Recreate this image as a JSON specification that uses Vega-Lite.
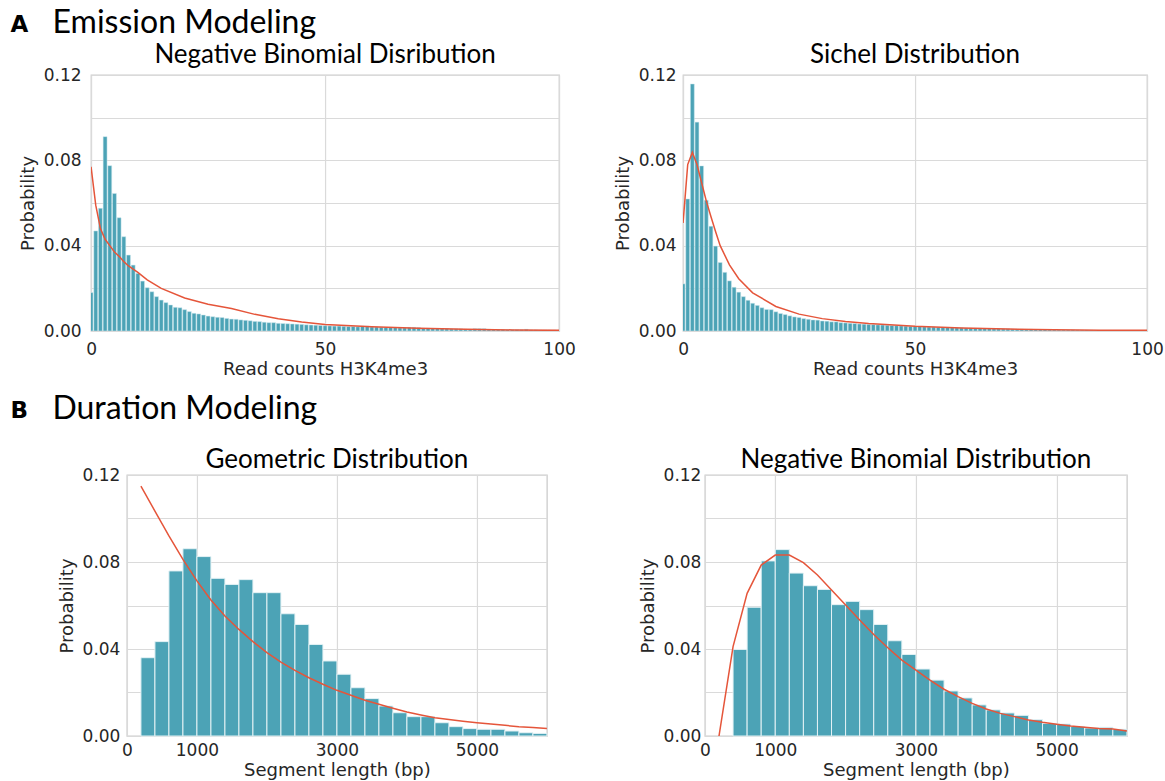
{
"$schema": "https://vega.github.io/schema/vega-lite/v6.json",
"background": "white",
"padding": {"left": 10, "top": 7, "right": 0, "bottom": 2},
"config": {
 "view": {"stroke": "#cccccc", "strokeWidth": 1.3},
 "axis": {"domain": false, "ticks": false, "grid": true, "gridColor": "#dadada", "gridWidth": 1.2, "labelFont": "DejaVu Sans", "labelFontSize": 17, "labelColor": "#262626", "titleFont": "DejaVu Sans", "titleFontSize": 18, "titleFontWeight": "normal", "titleColor": "#262626", "labelFlush": false},
 "title": {"font": "Lato", "fontWeight": "normal", "fontSize": 26, "color": "#000000", "offset": -2}
},
"datasets": {
 "e_nb_bars": [{"x":0,"p":0.018},{"x":1,"p":0.0469},{"x":2,"p":0.0575},{"x":3,"p":0.0911},{"x":4,"p":0.0775},{"x":5,"p":0.0645},{"x":6,"p":0.0531},{"x":7,"p":0.0442},{"x":8,"p":0.0356},{"x":9,"p":0.0309},{"x":10,"p":0.027},{"x":11,"p":0.0234},{"x":12,"p":0.0203},{"x":13,"p":0.0184},{"x":14,"p":0.0161},{"x":15,"p":0.0145},{"x":16,"p":0.0133},{"x":17,"p":0.0122},{"x":18,"p":0.0111},{"x":19,"p":0.0109},{"x":20,"p":0.01},{"x":21,"p":0.0091},{"x":22,"p":0.0083},{"x":23,"p":0.008},{"x":24,"p":0.0075},{"x":25,"p":0.007},{"x":26,"p":0.0067},{"x":27,"p":0.0064},{"x":28,"p":0.0063},{"x":29,"p":0.0059},{"x":30,"p":0.0056},{"x":31,"p":0.0055},{"x":32,"p":0.0052},{"x":33,"p":0.005},{"x":34,"p":0.0048},{"x":35,"p":0.0045},{"x":36,"p":0.0044},{"x":37,"p":0.0041},{"x":38,"p":0.0039},{"x":39,"p":0.0039},{"x":40,"p":0.0036},{"x":41,"p":0.0035},{"x":42,"p":0.0034},{"x":43,"p":0.0033},{"x":44,"p":0.0032},{"x":45,"p":0.0031},{"x":46,"p":0.0029},{"x":47,"p":0.0028},{"x":48,"p":0.0027},{"x":49,"p":0.0026},{"x":50,"p":0.0025},{"x":51,"p":0.0024},{"x":52,"p":0.0023},{"x":53,"p":0.0023},{"x":54,"p":0.0022},{"x":55,"p":0.0021},{"x":56,"p":0.0021},{"x":57,"p":0.002},{"x":58,"p":0.0023},{"x":59,"p":0.0023},{"x":60,"p":0.0019},{"x":61,"p":0.0019},{"x":62,"p":0.0018},{"x":63,"p":0.0017},{"x":64,"p":0.0017},{"x":65,"p":0.0016},{"x":66,"p":0.0015},{"x":67,"p":0.0015},{"x":68,"p":0.0017},{"x":69,"p":0.0017},{"x":70,"p":0.0016},{"x":71,"p":0.0013},{"x":72,"p":0.0013},{"x":73,"p":0.0012},{"x":74,"p":0.0012},{"x":75,"p":0.0011},{"x":76,"p":0.0011},{"x":77,"p":0.001},{"x":78,"p":0.001},{"x":79,"p":0.001},{"x":80,"p":0.0009},{"x":81,"p":0.0009},{"x":82,"p":0.0011},{"x":83,"p":0.0011},{"x":84,"p":0.0011},{"x":85,"p":0.0008},{"x":86,"p":0.0007},{"x":87,"p":0.0007},{"x":88,"p":0.0007},{"x":89,"p":0.0006},{"x":90,"p":0.0006},{"x":91,"p":0.0006},{"x":92,"p":0.0006},{"x":93,"p":0.0008},{"x":94,"p":0.0005},{"x":95,"p":0.0005},{"x":96,"p":0.0004},{"x":97,"p":0.0004},{"x":98,"p":0.0004},{"x":99,"p":0.0004}],
 "e_nb_line": [{"x":0,"p":0.077},{"x":1,"p":0.059},{"x":2,"p":0.048},{"x":3,"p":0.043},{"x":4,"p":0.04},{"x":5,"p":0.037},{"x":6,"p":0.035},{"x":7,"p":0.0325},{"x":8,"p":0.0305},{"x":10,"p":0.0275},{"x":12,"p":0.024},{"x":15,"p":0.02},{"x":20,"p":0.0155},{"x":25,"p":0.0125},{"x":30,"p":0.0105},{"x":35,"p":0.0078},{"x":40,"p":0.0057},{"x":45,"p":0.0042},{"x":50,"p":0.0031},{"x":60,"p":0.002},{"x":70,"p":0.0013},{"x":80,"p":0.0008},{"x":90,"p":0.0005},{"x":100,"p":0.0003}],
 "e_si_bars": [{"x":0,"p":0.0221},{"x":1,"p":0.0619},{"x":2,"p":0.1158},{"x":3,"p":0.0979},{"x":4,"p":0.0774},{"x":5,"p":0.0613},{"x":6,"p":0.0491},{"x":7,"p":0.0398},{"x":8,"p":0.0321},{"x":9,"p":0.0275},{"x":10,"p":0.0235},{"x":11,"p":0.0205},{"x":12,"p":0.0182},{"x":13,"p":0.0161},{"x":14,"p":0.0144},{"x":15,"p":0.013},{"x":16,"p":0.012},{"x":17,"p":0.0109},{"x":18,"p":0.0101},{"x":19,"p":0.01},{"x":20,"p":0.009},{"x":21,"p":0.0082},{"x":22,"p":0.0077},{"x":23,"p":0.0071},{"x":24,"p":0.0066},{"x":25,"p":0.0063},{"x":26,"p":0.0058},{"x":27,"p":0.0055},{"x":28,"p":0.0052},{"x":29,"p":0.0051},{"x":30,"p":0.0047},{"x":31,"p":0.0046},{"x":32,"p":0.0043},{"x":33,"p":0.0043},{"x":34,"p":0.0039},{"x":35,"p":0.0038},{"x":36,"p":0.0036},{"x":37,"p":0.0035},{"x":38,"p":0.0033},{"x":39,"p":0.0032},{"x":40,"p":0.0031},{"x":41,"p":0.003},{"x":42,"p":0.0029},{"x":43,"p":0.0028},{"x":44,"p":0.0027},{"x":45,"p":0.0026},{"x":46,"p":0.0025},{"x":47,"p":0.0024},{"x":48,"p":0.0023},{"x":49,"p":0.0022},{"x":50,"p":0.0022},{"x":51,"p":0.0021},{"x":52,"p":0.002},{"x":53,"p":0.0019},{"x":54,"p":0.0019},{"x":55,"p":0.0018},{"x":56,"p":0.0017},{"x":57,"p":0.0017},{"x":58,"p":0.0016},{"x":59,"p":0.0015},{"x":60,"p":0.0015},{"x":61,"p":0.0014},{"x":62,"p":0.0014},{"x":63,"p":0.0013},{"x":64,"p":0.0013},{"x":65,"p":0.0012},{"x":66,"p":0.0012},{"x":67,"p":0.0011},{"x":68,"p":0.0011},{"x":69,"p":0.001},{"x":70,"p":0.001},{"x":71,"p":0.0009},{"x":72,"p":0.0009},{"x":73,"p":0.0009},{"x":74,"p":0.0008},{"x":75,"p":0.0008},{"x":76,"p":0.0007},{"x":77,"p":0.0007},{"x":78,"p":0.0007},{"x":79,"p":0.0006},{"x":80,"p":0.0006},{"x":81,"p":0.0005},{"x":82,"p":0.0005},{"x":83,"p":0.0005},{"x":84,"p":0.0005},{"x":85,"p":0.0004},{"x":86,"p":0.0004},{"x":87,"p":0.0004},{"x":88,"p":0.0004},{"x":89,"p":0.0003},{"x":90,"p":0.0003},{"x":91,"p":0.0003},{"x":92,"p":0.0003},{"x":93,"p":0.0003},{"x":94,"p":0.0002},{"x":95,"p":0.0002},{"x":96,"p":0.0002},{"x":97,"p":0.0002},{"x":98,"p":0.0002},{"x":99,"p":0.0002}],
 "e_si_line": [{"x":0,"p":0.0506},{"x":1,"p":0.078},{"x":2,"p":0.0837},{"x":3,"p":0.078},{"x":4,"p":0.0695},{"x":5,"p":0.061},{"x":6,"p":0.0537},{"x":7,"p":0.0466},{"x":8,"p":0.04},{"x":10,"p":0.031},{"x":12,"p":0.0245},{"x":15,"p":0.0179},{"x":20,"p":0.0115},{"x":25,"p":0.0079},{"x":30,"p":0.0058},{"x":35,"p":0.0045},{"x":40,"p":0.0035},{"x":50,"p":0.0022},{"x":60,"p":0.0014},{"x":70,"p":0.0009},{"x":80,"p":0.0006},{"x":90,"p":0.0004},{"x":100,"p":0.0003}],
 "d_ge_bars": [{"lo":200,"hi":400,"p":0.036},{"lo":400,"hi":600,"p":0.0434},{"lo":600,"hi":800,"p":0.0759},{"lo":800,"hi":1000,"p":0.0861},{"lo":1000,"hi":1200,"p":0.0825},{"lo":1200,"hi":1400,"p":0.0725},{"lo":1400,"hi":1600,"p":0.0697},{"lo":1600,"hi":1800,"p":0.0719},{"lo":1800,"hi":2000,"p":0.0659},{"lo":2000,"hi":2200,"p":0.0659},{"lo":2200,"hi":2400,"p":0.0562},{"lo":2400,"hi":2600,"p":0.0513},{"lo":2600,"hi":2800,"p":0.0421},{"lo":2800,"hi":3000,"p":0.0345},{"lo":3000,"hi":3200,"p":0.0284},{"lo":3200,"hi":3400,"p":0.0222},{"lo":3400,"hi":3600,"p":0.0172},{"lo":3600,"hi":3800,"p":0.0138},{"lo":3800,"hi":4000,"p":0.0107},{"lo":4000,"hi":4200,"p":0.0089},{"lo":4200,"hi":4400,"p":0.0089},{"lo":4400,"hi":4600,"p":0.0061},{"lo":4600,"hi":4800,"p":0.0043},{"lo":4800,"hi":5000,"p":0.0034},{"lo":5000,"hi":5200,"p":0.0031},{"lo":5200,"hi":5400,"p":0.0031},{"lo":5400,"hi":5600,"p":0.0023},{"lo":5600,"hi":5800,"p":0.0015},{"lo":5800,"hi":6000,"p":0.0012}],
 "d_ge_line": [{"x":200,"p":0.1149},{"x":400,"p":0.1034},{"x":600,"p":0.092},{"x":800,"p":0.0812},{"x":1000,"p":0.0713},{"x":1200,"p":0.0625},{"x":1400,"p":0.0552},{"x":1600,"p":0.049},{"x":1800,"p":0.0434},{"x":2000,"p":0.0383},{"x":2200,"p":0.034},{"x":2400,"p":0.0302},{"x":2600,"p":0.0268},{"x":2800,"p":0.0238},{"x":3000,"p":0.021},{"x":3200,"p":0.0187},{"x":3400,"p":0.0164},{"x":3600,"p":0.0146},{"x":3800,"p":0.0128},{"x":4000,"p":0.011},{"x":4200,"p":0.0097},{"x":4400,"p":0.0084},{"x":4600,"p":0.0076},{"x":4800,"p":0.0068},{"x":5000,"p":0.0061},{"x":5200,"p":0.0055},{"x":5400,"p":0.0049},{"x":5600,"p":0.0043},{"x":5800,"p":0.0039},{"x":6000,"p":0.0035}],
 "d_nb_bars": [{"lo":400,"hi":600,"p":0.0398},{"lo":600,"hi":800,"p":0.0592},{"lo":800,"hi":1000,"p":0.0805},{"lo":1000,"hi":1200,"p":0.0857},{"lo":1200,"hi":1400,"p":0.0749},{"lo":1400,"hi":1600,"p":0.0691},{"lo":1600,"hi":1800,"p":0.0674},{"lo":1800,"hi":2000,"p":0.0604},{"lo":2000,"hi":2200,"p":0.0619},{"lo":2200,"hi":2400,"p":0.0581},{"lo":2400,"hi":2600,"p":0.0513},{"lo":2600,"hi":2800,"p":0.0438},{"lo":2800,"hi":3000,"p":0.0375},{"lo":3000,"hi":3200,"p":0.0308},{"lo":3200,"hi":3400,"p":0.0257},{"lo":3400,"hi":3600,"p":0.0207},{"lo":3600,"hi":3800,"p":0.0175},{"lo":3800,"hi":4000,"p":0.0143},{"lo":4000,"hi":4200,"p":0.012},{"lo":4200,"hi":4400,"p":0.0106},{"lo":4400,"hi":4600,"p":0.0095},{"lo":4600,"hi":4800,"p":0.0075},{"lo":4800,"hi":5000,"p":0.0058},{"lo":5000,"hi":5200,"p":0.0055},{"lo":5200,"hi":5400,"p":0.0044},{"lo":5400,"hi":5600,"p":0.0037},{"lo":5600,"hi":5800,"p":0.004},{"lo":5800,"hi":6000,"p":0.0031}],
 "d_nb_line": [{"x":200,"p":0},{"x":400,"p":0.0411},{"x":600,"p":0.0656},{"x":800,"p":0.0786},{"x":1000,"p":0.0832},{"x":1200,"p":0.0832},{"x":1400,"p":0.0797},{"x":1600,"p":0.074},{"x":1800,"p":0.0671},{"x":2000,"p":0.0602},{"x":2200,"p":0.0533},{"x":2400,"p":0.0467},{"x":2600,"p":0.0406},{"x":2800,"p":0.0349},{"x":3000,"p":0.0303},{"x":3200,"p":0.0257},{"x":3400,"p":0.0215},{"x":3600,"p":0.0181},{"x":3800,"p":0.015},{"x":4000,"p":0.0124},{"x":4200,"p":0.0104},{"x":4400,"p":0.0089},{"x":4600,"p":0.0074},{"x":4800,"p":0.0063},{"x":5000,"p":0.0054},{"x":5200,"p":0.0046},{"x":5400,"p":0.004},{"x":5600,"p":0.0035},{"x":5800,"p":0.0032},{"x":6000,"p":0.0023}]
},
"spacing": 14,
"center": true,
"vconcat": [
 {
  "title": {"text": "A", "anchor": "start", "dx": -8, "font": "DejaVu Sans", "fontWeight": "bold", "fontSize": 23, "offset": -30},
  "vconcat": [
   {
    "title": {"text": "Emission Modeling", "anchor": "start", "dx": 34, "fontSize": 32, "offset": 1},
    "spacing": 37,
    "hconcat": [
     {
      "width": 468, "height": 256,
      "title": "Negative Binomial Disribution",
      "layer": [
       {"data": {"name": "e_nb_bars"}, "mark": {"type": "bar", "width": 3.9, "color": "#4ca3b6", "stroke": "#cfe8ee", "strokeWidth": 0.5, "clip": true},
        "encoding": {
         "x": {"field": "x", "type": "quantitative", "scale": {"domain": [0, 100], "nice": false, "padding": 0}, "axis": {"values": [0, 50, 100], "title": "Read counts H3K4me3", "labelPadding": 10, "titlePadding": 3}},
         "y": {"field": "p", "type": "quantitative", "scale": {"domain": [0, 0.12], "nice": false, "padding": 0}, "axis": {"values": [0, 0.02, 0.04, 0.06, 0.08, 0.1, 0.12], "labelExpr": "round(datum.value*100) % 4 == 0 ? format(datum.value, '.2f') : ''", "title": "Probability", "labelPadding": 10, "titlePadding": 6}}
        }},
       {"data": {"name": "e_nb_line"}, "mark": {"type": "line", "color": "#e5553a", "strokeWidth": 1.5, "clip": true},
        "encoding": {"x": {"field": "x", "type": "quantitative", "title": "Read counts H3K4me3"}, "y": {"field": "p", "type": "quantitative", "title": "Probability"}}}
      ]
     },
     {
      "width": 464, "height": 256,
      "title": "Sichel Distribution",
      "layer": [
       {"data": {"name": "e_si_bars"}, "mark": {"type": "bar", "width": 3.9, "color": "#4ca3b6", "stroke": "#cfe8ee", "strokeWidth": 0.5, "clip": true},
        "encoding": {
         "x": {"field": "x", "type": "quantitative", "scale": {"domain": [0, 100], "nice": false, "padding": 0}, "axis": {"values": [0, 50, 100], "title": "Read counts H3K4me3", "labelPadding": 10, "titlePadding": 3}},
         "y": {"field": "p", "type": "quantitative", "scale": {"domain": [0, 0.12], "nice": false, "padding": 0}, "axis": {"values": [0, 0.02, 0.04, 0.06, 0.08, 0.1, 0.12], "labelExpr": "round(datum.value*100) % 4 == 0 ? format(datum.value, '.2f') : ''", "title": "Probability", "labelPadding": 7, "titlePadding": 6}}
        }},
       {"data": {"name": "e_si_line"}, "mark": {"type": "line", "color": "#e5553a", "strokeWidth": 1.5, "clip": true},
        "encoding": {"x": {"field": "x", "type": "quantitative", "title": "Read counts H3K4me3"}, "y": {"field": "p", "type": "quantitative", "title": "Probability"}}}
      ]
     }
    ]
   }
  ]
 },
 {
  "title": {"text": "B", "anchor": "start", "dx": -42, "font": "DejaVu Sans", "fontWeight": "bold", "fontSize": 23, "offset": -30},
  "vconcat": [
   {
    "title": {"text": "Duration Modeling", "anchor": "start", "dx": -5, "fontSize": 32, "offset": 20},
    "spacing": 89,
    "hconcat": [
     {
      "width": 420, "height": 261,
      "title": {"text": "Geometric Distribution", "offset": -7},
      "layer": [
       {"data": {"name": "d_ge_bars"}, "mark": {"type": "bar", "color": "#4ca3b6", "stroke": "#e4f2f5", "strokeWidth": 1},
        "encoding": {
         "x": {"field": "lo", "type": "quantitative", "scale": {"domain": [0, 6000], "nice": false, "padding": 0}, "axis": {"values": [0, 1000, 3000, 5000], "format": "d", "title": "Segment length (bp)", "labelPadding": 6, "titlePadding": 3}},
         "x2": {"field": "hi"},
         "y": {"field": "p", "type": "quantitative", "scale": {"domain": [0, 0.12], "nice": false, "padding": 0}, "axis": {"values": [0, 0.02, 0.04, 0.06, 0.08, 0.1, 0.12], "labelExpr": "round(datum.value*100) % 4 == 0 ? format(datum.value, '.2f') : ''", "title": "Probability", "labelPadding": 7, "titlePadding": 6}},
         "y2": {"datum": 0}
        }},
       {"data": {"name": "d_ge_line"}, "mark": {"type": "line", "color": "#e5553a", "strokeWidth": 1.5, "clip": true},
        "encoding": {"x": {"field": "x", "type": "quantitative", "title": "Segment length (bp)"}, "y": {"field": "p", "type": "quantitative", "title": "Probability"}}}
      ]
     },
     {
      "width": 422, "height": 261,
      "title": {"text": "Negative Binomial Distribution", "offset": -7},
      "layer": [
       {"data": {"name": "d_nb_bars"}, "mark": {"type": "bar", "color": "#4ca3b6", "stroke": "#e4f2f5", "strokeWidth": 1},
        "encoding": {
         "x": {"field": "lo", "type": "quantitative", "scale": {"domain": [0, 6000], "nice": false, "padding": 0}, "axis": {"values": [0, 1000, 3000, 5000], "format": "d", "title": "Segment length (bp)", "labelPadding": 6, "titlePadding": 3}},
         "x2": {"field": "hi"},
         "y": {"field": "p", "type": "quantitative", "scale": {"domain": [0, 0.12], "nice": false, "padding": 0}, "axis": {"values": [0, 0.02, 0.04, 0.06, 0.08, 0.1, 0.12], "labelExpr": "round(datum.value*100) % 4 == 0 ? format(datum.value, '.2f') : ''", "title": "Probability", "labelPadding": 4, "titlePadding": 6}},
         "y2": {"datum": 0}
        }},
       {"data": {"name": "d_nb_line"}, "mark": {"type": "line", "color": "#e5553a", "strokeWidth": 1.5, "clip": true},
        "encoding": {"x": {"field": "x", "type": "quantitative", "title": "Segment length (bp)"}, "y": {"field": "p", "type": "quantitative", "title": "Probability"}}}
      ]
     }
    ]
   }
  ]
 }
]
}
